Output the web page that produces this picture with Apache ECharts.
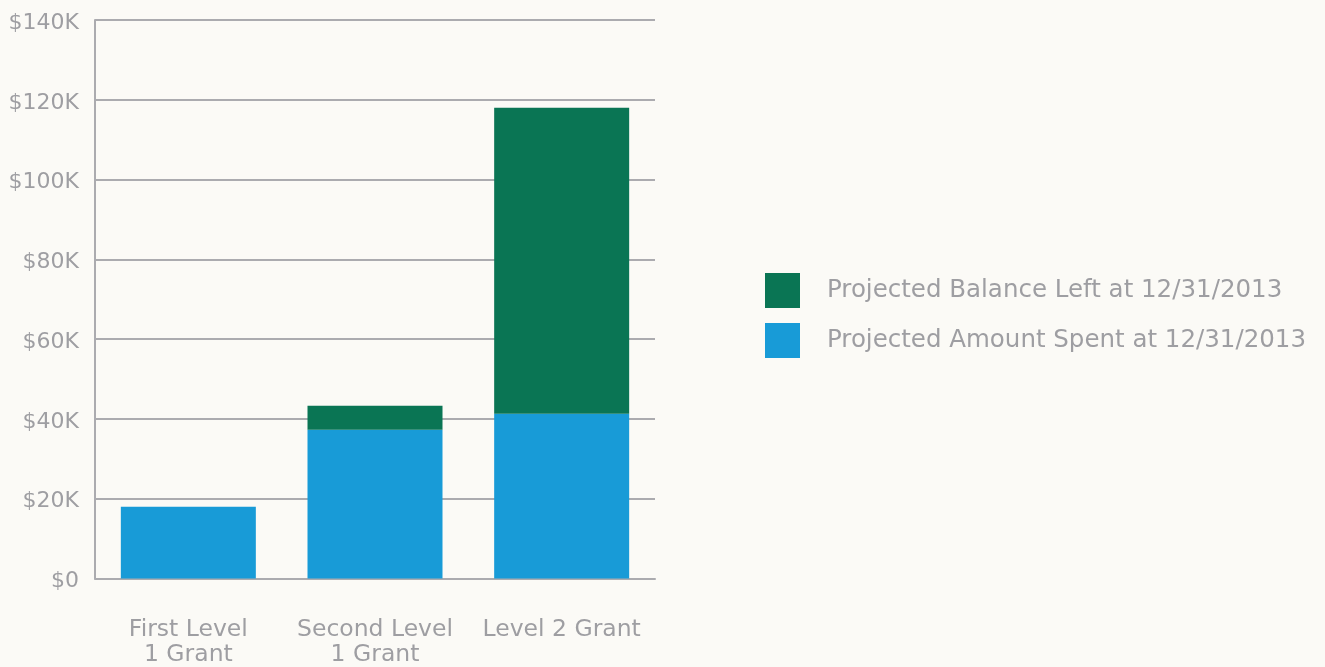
<!DOCTYPE html>
<html>
<head>
<meta charset="utf-8">
<script src="https://cdn.jsdelivr.net/npm/echarts@6/dist/echarts.min.js"></script>
<style>
html,body{margin:0;padding:0;background:#fbfaf6;overflow:hidden;}
#chart{width:1325px;height:667px;}
</style>
</head>
<body>
<div id="chart"></div>
<script>
const categories = ['First Level\n1 Grant', 'Second Level\n1 Grant', 'Level 2 Grant'];
const amountSpent = [18000, 37300, 41300];
const balanceLeft = [0, 6000, 76700];
const seriesNames = ['Projected Amount Spent at 12/31/2013', 'Projected Balance Left at 12/31/2013'];
const legendOrder = ['Projected Balance Left at 12/31/2013', 'Projected Amount Spent at 12/31/2013'];

const textColor = '#9e9ea2';
const gridColor = '#ababaf';
const fontFam = '"DejaVu Sans", sans-serif';

const chart = echarts.init(document.getElementById('chart'));
chart.setOption({
  backgroundColor: '#fbfaf6',
  animation: false,
  grid: {left: 95, right: 670, top: 20, bottom: 88.5, containLabel: false, outerBoundsMode: 'none'},
  legend: {
    orient: 'vertical',
    left: 765,
    top: 273,
    padding: 0,
    itemWidth: 35,
    itemHeight: 35,
    itemGap: 15,
    icon: 'rect',
    data: legendOrder,
    textStyle: {color: textColor, fontSize: 24.5, fontFamily: fontFam, padding: [6, 0, 0, 22]}
  },
  xAxis: {
    type: 'category',
    data: categories,
    axisLine: {show: true, lineStyle: {color: gridColor, width: 2}},
    axisTick: {show: false},
    axisLabel: {color: textColor, fontSize: 23.5, fontFamily: fontFam, margin: 39, lineHeight: 25, interval: 0}
  },
  yAxis: {
    type: 'value',
    min: 0,
    max: 140000,
    interval: 20000,
    axisLine: {show: true, lineStyle: {color: gridColor, width: 2}},
    axisTick: {show: false},
    splitLine: {show: true, lineStyle: {color: gridColor, width: 2}},
    axisLabel: {
      color: textColor, fontSize: 22, fontFamily: fontFam, margin: 16,
      formatter: v => '{v|' + (v === 0 ? '$0' : '$' + (v / 1000) + 'K') + '}',
      rich: {v: {color: textColor, fontSize: 22, fontFamily: fontFam, padding: [6, 0, 0, 0]}}
    }
  },
  series: [
    {
      name: seriesNames[0], type: 'bar', stack: 'total', data: amountSpent,
      barWidth: 135, itemStyle: {color: '#189bd7'}
    },
    {
      name: seriesNames[1], type: 'bar', stack: 'total', data: balanceLeft,
      barWidth: 135, itemStyle: {color: '#0a7554'}
    }
  ]
});
</script>
</body>
</html>
